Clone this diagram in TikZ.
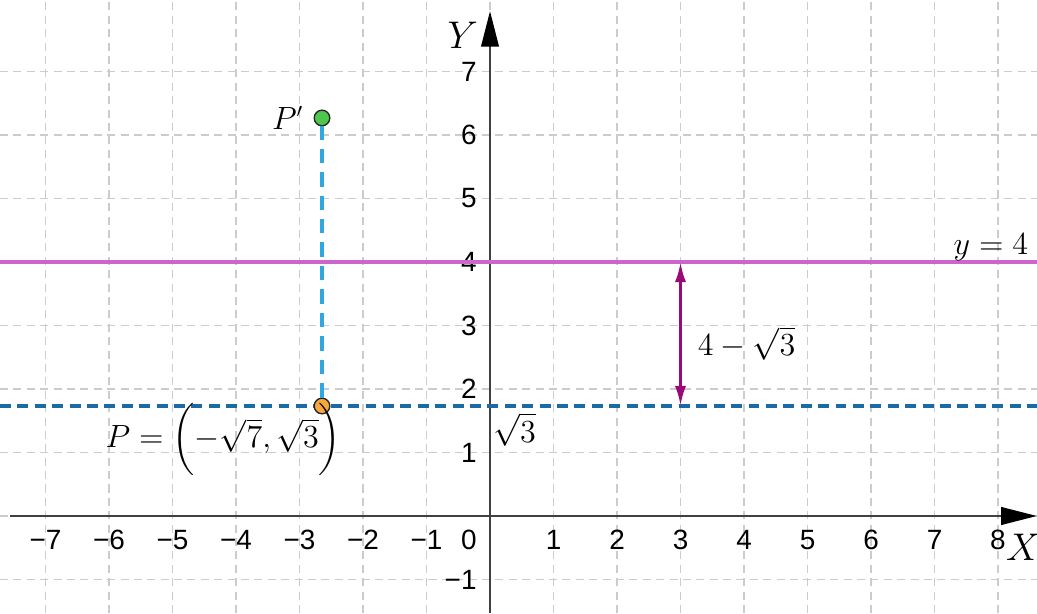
\documentclass[tikz,border=0pt]{standalone}
\usepackage{amsmath, amssymb}
\usepackage{fontspec}
\newfontfamily\ggbfont{Liberation Sans}
\usepackage{xcolor}
\usepackage{tikz}
\usetikzlibrary{arrows.meta}
\definecolor{violetline}{HTML}{CC66CC}
\definecolor{rootblue}{HTML}{1A6AA6}
\definecolor{dropblue}{HTML}{2FA8E0}
\definecolor{gappurple}{HTML}{990A78}
\definecolor{ptorange}{HTML}{F6A83C}
\definecolor{ptgreen}{HTML}{4DC74D}
\tikzset{every node/.append style={font=\fontsize{13.5}{16}\selectfont}}
\tikzset{
  gridline/.style={gray!40, line width=0.5pt, dash pattern=on 3.6pt off 2.4pt},
  axisline/.style={black!75, line width=0.7pt, -{Triangle[length=0.56cm, width=0.28cm, color=black]}},
  axislabel/.style={font=\fontsize{18.5}{20}\selectfont},
  ticklbl/.style={font=\ggbfont\fontsize{12.5}{14}\selectfont, inner sep=1pt},
  dot/.style={circle, draw=black!85, line width=0.6pt, inner sep=0pt, minimum size=7pt},
}

\begin{document}
\begin{tikzpicture}[>={Latex[length=9pt, width=5pt]}]
    \useasboundingbox (-7.717,-1.528) rectangle (8.614,8.126);
    % grid
    \foreach \i in {-7,...,8}
        \draw[gridline] (\i,-1.528) -- (\i,8.126);
    \foreach \j in {-1,...,7}
        \draw[gridline] (-7.717,\j) -- (8.614,\j);
    % axes
    \coordinate (xstart) at (-7.56,0);
    \coordinate (xend) at (8.61,0);
    \coordinate (ystart) at (0,-1.528);
    \coordinate (yend) at (0,7.95);
    \draw[axisline] (xstart) -- (xend);
    \draw[axisline] (ystart) -- (yend);
    \node[axislabel] (xname) at (8.4,-0.5) {$X$};
    \node[axislabel] (yname) at (-0.43,7.57) {$Y$};
    % tick labels
    \foreach \i in {1,...,8}
        \node[ticklbl] (xp\i) at (\i,-0.38) {\i};
    \foreach \i in {1,...,7}
        \node[ticklbl] (xm\i) at (-\i,-0.38) {−\i};
    \foreach \j in {1,...,7}
        \node[ticklbl, anchor=east] (yp\j) at (-0.17,\j) {\j};
    \node[ticklbl, anchor=east] (ym1) at (-0.17,-1) {−1};
    \node[ticklbl, anchor=east] (orig) at (-0.17,-0.38) {0};
    % lines y = 4 and y = sqrt 3
    \coordinate (fourleft) at (-7.717,4);
    \coordinate (fourright) at (8.614,4);
    \draw[violetline, line width=1.9pt] (fourleft) -- (fourright);
    \node[anchor=base east] (fourlbl) at (8.6,4.12) {$y=4$};
    \coordinate (rootleft) at (-7.717,1.7321);
    \coordinate (rootright) at (8.614,1.7321);
    \draw[rootblue, line width=1.7pt, dash pattern=on 4.9pt off 2.9pt] (rootleft) -- (rootright);
    % points
    \node[dot, fill=ptorange] (P) at (-2.6458,1.7321) {};
    \node[dot, fill=ptgreen] (Pimg) at (-2.6458,6.2679) {};
    \draw[dropblue, line width=2.1pt, dash pattern=on 6.5pt off 4pt] (P) -- (Pimg);
    \node[anchor=east, xshift=-1pt] (Pimglbl) at (Pimg.west) {$P'$};
    \node (Plbl) at (-4.2,1.2) {$P=\biggl(-\sqrt{7},\sqrt{3}\biggr)$};
    \node[anchor=west] (rootlbl) at (-0.07,1.36) {$\sqrt{3}$};
    % distance between the lines
    \coordinate (gapbot) at (3,1.7321);
    \coordinate (gaptop) at (3,4);
    \draw[gappurple, line width=1.3pt, <->] (gapbot) -- (gaptop);
    \node[anchor=west] (gaplbl) at (3.15,2.72) {$4-\sqrt{3}$};
\end{tikzpicture}
\end{document}
